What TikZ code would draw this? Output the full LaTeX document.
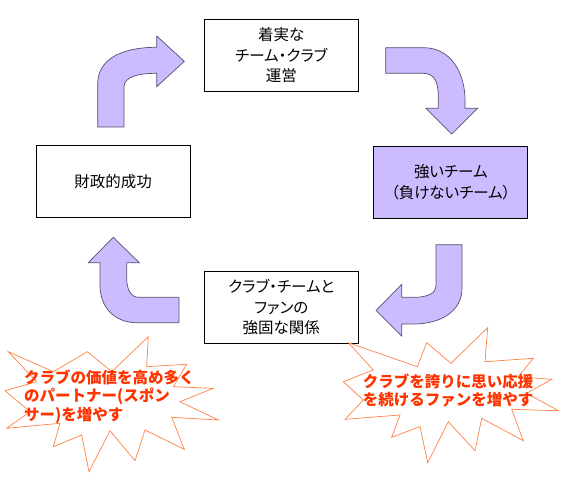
\documentclass[tikz,border=0pt]{standalone}
\usepackage{fontspec}
\newfontfamily\jp{Noto Sans CJK JP}
\newfontfamily\jpp[RawFeature=+palt]{Noto Sans CJK JP}

\definecolor{lavender}{RGB}{204,187,255}
\definecolor{arrowline}{RGB}{85,80,110}
\definecolor{burstline}{RGB}{255,130,70}
\definecolor{bursttxt}{RGB}{255,51,0}

\begin{document}
\begin{tikzpicture}[x=1pt,y=-1pt,line join=miter,
    box/.style={draw=black,line width=0.8pt,fill=white,minimum width=154pt,
        minimum height=72pt,align=center,inner sep=0pt,
        font=\jpp\fontsize{15.5}{20.5}\selectfont},
    bentarrow/.style={draw=arrowline,fill=lavender,line width=0.7pt},
    burst/.style={draw=burstline,fill=white,line width=0.7pt},
    bursttext/.style={text=bursttxt,inner sep=0pt,
        font=\jp\bfseries\fontsize{15.5}{18.5}\selectfont}]

\useasboundingbox (0,0) rectangle (570,480);

% the four stages of the cycle
\node[box] (unei) at (281.3,55.2) {着実な\\チーム・クラブ\\運営};
\node[box,fill=lavender] (tsuyoi) at (450.8,182.2) {強いチーム\\（負けないチーム）};
\node[box] (kankei) at (281.3,307.5) {クラブ・チームと\\ファンの\\強固な関係};
\node[box] (zaisei) at (113,181.5) {財政的成功};

% bent arrows between the stages (clockwise)
% up, then right
\draw[bentarrow] (97.7,127) -- (97.7,84)
    .. controls (97.7,60) and (120,47.3) .. (156.7,47.3)
    -- (156.7,36) -- (184.3,61.3) -- (156.7,86.7) -- (156.7,73.3)
    .. controls (135,73.3) and (124,78) .. (124,87) -- (124,127) -- cycle;

% right, then down
\draw[bentarrow] (385.7,47.7) -- (424,47.7)
    .. controls (450,47.7) and (465,72) .. (465,100)
    -- (465,108.3) -- (477.7,108.3) -- (451.7,134) -- (426,108.3) -- (438.3,108.3)
    -- (438.3,96) .. controls (438.3,80) and (433,73.3) .. (423,73.3)
    -- (385.7,73.3) -- cycle;

% down, then left
\draw[bentarrow] (436,244.7) -- (462,244.7) -- (462,288)
    .. controls (462,312) and (440,324) .. (413,324)
    -- (401.7,324) -- (401.7,336) -- (376,310.5) -- (401.7,284.3) -- (401.7,297.3)
    -- (414,297.3) .. controls (428,297.3) and (436,293) .. (436,286) -- cycle;

% left, then up
\draw[bentarrow] (179,297.3) -- (139,297.3)
    .. controls (131,297.3) and (126.7,290) .. (126.7,278)
    -- (126.7,262.7) -- (139.3,262.7) -- (113.3,237.3) -- (88.3,262.7) -- (100,262.7)
    -- (100,285) .. controls (100,308) and (115,322.7) .. (137,322.7)
    -- (179,322.7) -- cycle;

% explosions with the two aims
\draw[burst] (8.3,351.7) -- (53.3,371.7) -- (87.3,351.7) -- (111.7,371.7)
    -- (148.3,336.7) -- (146.7,366.7) -- (186.7,364.3) -- (173.3,386.7)
    -- (213.3,388.3) -- (180,401.7) -- (218.3,420) -- (171.7,417.3)
    -- (184.3,449.3) -- (145,430) -- (135,460.7) -- (110,430.7)
    -- (89,471.7) -- (81.7,435) -- (53.3,446.7) -- (60,423.3)
    -- (6.7,428.3) -- (30,411.7) -- (5,390.7) -- (36.7,381.7) -- cycle;

\draw[burst] (348.3,342.7) -- (417.3,366.7) -- (426.7,342.7) -- (451,363.3)
    -- (487.7,327.7) -- (485,361.7) -- (533.3,358.3) -- (518.3,376.7)
    -- (551.7,379.3) -- (526.7,393.3) -- (558.3,410.7) -- (511.7,409.3)
    -- (523.3,440.7) -- (481.7,418.3) -- (475,450.7) -- (448.3,421.7)
    -- (427.7,462.7) -- (420,426.7) -- (391.7,437.3) -- (400,415)
    -- (345,419.3) -- (363.3,400) -- (343.3,381.7) -- (373.3,370) -- cycle;

\node[bursttext,anchor=west,align=left] (partner) at (24,396.5)
    {クラブの価値を高め多く\\のパートナー(スポン\\サー)を増やす};
\node[bursttext,align=center] (fan) at (448,390.3)
    {クラブを誇りに思い応援\\を続けるファンを増やす};

\end{tikzpicture}
\end{document}
